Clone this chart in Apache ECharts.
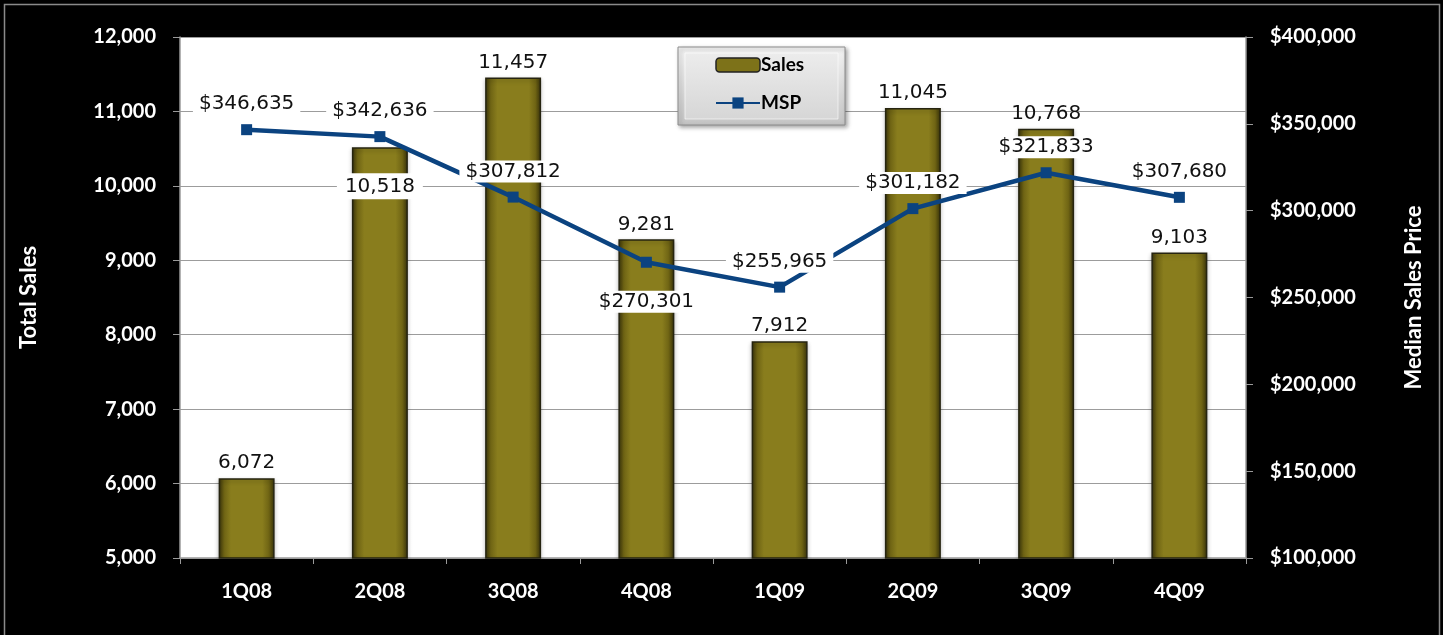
<!DOCTYPE html>
<html>
<head>
<meta charset="utf-8">
<script src="https://cdn.jsdelivr.net/npm/echarts@6/dist/echarts.min.js"></script>
<style>
  html, body { margin: 0; padding: 0; background: #000; }
  #chart { width: 1443px; height: 635px; }
</style>
</head>
<body>
<div id="chart"></div>
<script>
// Quarterly totals and median sales price
const quarters = ['1Q08', '2Q08', '3Q08', '4Q08', '1Q09', '2Q09', '3Q09', '4Q09'];
const sales = [6072, 10518, 11457, 9281, 7912, 11045, 10768, 9103];
const msp = [346635, 342636, 307812, 270301, 255965, 301182, 321833, 307680];

// label placement per quarter for the price line ('top' or 'bottom')
const mspLabelSide = ['top', 'top', 'top', 'bottom', 'top', 'top', 'top', 'top'];
// sales labels that sit inside the bar instead of above it
const salesInside = [false, true, false, false, false, false, false, false];

const fmt = v => v.toLocaleString('en-US');
const axisFont = { color: '#fff', fontFamily: 'Lato', fontWeight: 'bold', fontSize: 20 };
const titleFont = { color: '#fff', fontFamily: 'Lato', fontWeight: 'bold', fontSize: 22 };
const valueFont = { fontFamily: 'DejaVu Sans', fontSize: 20, color: '#111' };

const barFill = {
  type: 'linear', x: 0, y: 0, x2: 1, y2: 0,
  colorStops: [
    { offset: 0, color: '#3a340a' },
    { offset: 0.1, color: '#6f6414' },
    { offset: 0.22, color: '#897d1d' },
    { offset: 0.78, color: '#897d1d' },
    { offset: 0.9, color: '#6f6414' },
    { offset: 1, color: '#3a340a' }
  ]
};

const chart = echarts.init(document.getElementById('chart'), null, { renderer: 'canvas' });

chart.setOption({
  backgroundColor: '#000',
  animation: false,
  grid: { left: 180, right: 197, top: 37, bottom: 77, show: true, backgroundColor: '#fff', borderWidth: 0 },
  graphic: [
    { type: 'rect', z: -10, silent: true,
      shape: { x: 4.5, y: 4.5, width: 1435, height: 650 },
      style: { fill: 'none', stroke: '#8a8a8a', lineWidth: 1.5 } },
    // legend panel
    { type: 'rect', z: 50, silent: true,
      shape: { x: 678, y: 47, width: 167, height: 78 },
      style: {
        fill: { type: 'linear', x: 0, y: 0, x2: 0, y2: 1,
          colorStops: [{ offset: 0, color: '#f4f4f4' }, { offset: 1, color: '#c4c4c4' }] },
        stroke: '#8c8c8c', lineWidth: 1,
        shadowBlur: 4, shadowColor: 'rgba(0,0,0,0.35)', shadowOffsetX: 2, shadowOffsetY: 2
      } },
    { type: 'rect', z: 51, silent: true,
      shape: { x: 685, y: 53, width: 153, height: 66 },
      style: {
        fill: { type: 'linear', x: 0, y: 0, x2: 0, y2: 1,
          colorStops: [{ offset: 0, color: '#ececec' }, { offset: 1, color: '#d6d6d6' }] },
        stroke: 'rgba(255,255,255,0.6)', lineWidth: 1
      } }
  ],
  legend: {
    z: 60,
    orient: 'vertical',
    left: 678, top: 47,
    padding: [8, 20, 12, 37],
    itemWidth: 44, itemHeight: 14, itemGap: 18,
    textStyle: { color: '#000', fontFamily: 'Lato', fontWeight: 'bold', fontSize: 19, lineHeight: 20, padding: [0, 0, 0, -4] },
    data: [
      { name: 'Sales', itemStyle: { color: '#7d7219', borderColor: '#222', borderWidth: 1.5 } },
      { name: 'MSP' }
    ]
  },
  xAxis: {
    type: 'category',
    data: quarters,
    axisLine: { show: true, lineStyle: { color: '#9a9a9a', width: 1.5 } },
    axisTick: { show: true, length: 6, lineStyle: { color: '#9a9a9a' } },
    axisLabel: Object.assign({ margin: 24 }, axisFont)
  },
  yAxis: [
    {
      type: 'value', min: 5000, max: 12000, interval: 1000,
      name: 'Total Sales', nameLocation: 'middle', nameGap: 140, nameRotate: 90,
      nameTextStyle: titleFont,
      axisLine: { show: true, lineStyle: { color: '#9a9a9a', width: 1.5 } },
      axisTick: { show: true, length: 7, lineStyle: { color: '#9a9a9a' } },
      axisLabel: Object.assign({ margin: 24, formatter: v => fmt(v) }, axisFont),
      splitLine: { show: true, lineStyle: { color: '#9c9c9c', width: 1.2 } }
    },
    {
      type: 'value', min: 100000, max: 400000, interval: 50000,
      name: 'Median Sales Price', nameLocation: 'middle', nameGap: 157, nameRotate: 90,
      nameTextStyle: titleFont,
      axisLine: { show: true, lineStyle: { color: '#9a9a9a', width: 1.5 } },
      axisTick: { show: true, length: 7, lineStyle: { color: '#9a9a9a' } },
      axisLabel: Object.assign({ margin: 24, formatter: v => '$' + fmt(v) }, axisFont),
      splitLine: { show: false }
    }
  ],
  series: [
    {
      name: 'Sales',
      type: 'bar',
      yAxisIndex: 0,
      barWidth: '42%',
      z: 2,
      itemStyle: {
        color: barFill, borderColor: '#262410', borderWidth: 1.5,
        shadowBlur: 4, shadowColor: 'rgba(0,0,0,0.25)', shadowOffsetY: 2
      },
      data: sales.map((v, i) => ({
        value: v,
        label: salesInside[i]
          ? { show: true, position: 'insideTop', distance: 26, backgroundColor: '#fff', padding: [3, 8] }
          : { show: true, position: 'top', distance: 5 }
      })),
      label: Object.assign({ formatter: p => fmt(p.value) }, valueFont)
    },
    {
      name: 'MSP',
      type: 'line',
      yAxisIndex: 1,
      z: 5,
      symbol: 'rect',
      symbolSize: 11,
      lineStyle: { color: '#0b4380', width: 4.5 },
      itemStyle: { color: '#0b4380' },
      data: msp.map((v, i) => ({
        value: v,
        label: { position: mspLabelSide[i], distance: mspLabelSide[i] === 'top' ? 9 : 23 }
      })),
      label: Object.assign({
        show: true,
        formatter: p => '$' + fmt(p.value),
        backgroundColor: '#fff', padding: [1, 6]
      }, valueFont)
    }
  ]
});
</script>
</body>
</html>
